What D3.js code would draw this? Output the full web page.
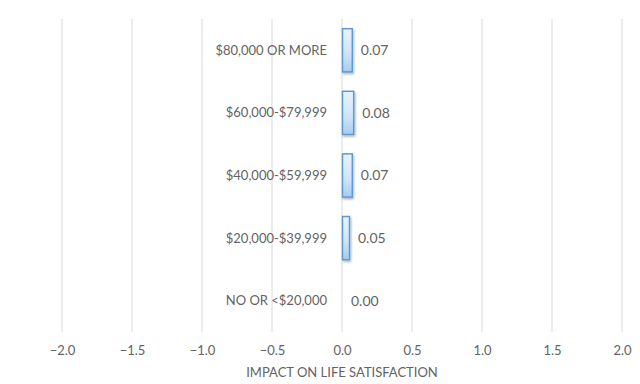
<!DOCTYPE html>
<html>
<head>
<meta charset="utf-8">
<script src="https://cdn.jsdelivr.net/npm/d3@7"></script>
<style>
  body { margin: 0; background: #fff; }
  text { font-family: Lato, "Open Sans", sans-serif; fill: #636363; }
</style>
</head>
<body>
<div id="chart"></div>
<script>
// income groups, bottom to top order as in the picture
var categories = ["NO OR <$20,000", "$20,000-$39,999", "$40,000-$59,999", "$60,000-$79,999", "$80,000 OR MORE"];
var values = [0.00, 0.05, 0.07, 0.08, 0.07];
var xTicks = [-2.0, -1.5, -1.0, -0.5, 0.0, 0.5, 1.0, 1.5, 2.0];

var svgWidth = 640;
var svgHeight = 384;

var margin = { top: 19, right: 18, bottom: 52, left: 62 };
var width = svgWidth - margin.left - margin.right;
var height = svgHeight - margin.top - margin.bottom;

var data = categories.map((c, i) => ({ cat: c, value: values[i] }));

var svg = d3.select("#chart")
  .append("svg")
  .attr("width", svgWidth)
  .attr("height", svgHeight);

var defs = svg.append("defs");
var grad = defs.append("linearGradient")
  .attr("id", "barFill")
  .attr("x1", 0).attr("y1", 0)
  .attr("x2", 0).attr("y2", 1);
grad.append("stop").attr("offset", "0%").attr("stop-color", "#eaf3fc");
grad.append("stop").attr("offset", "60%").attr("stop-color", "#cfe3f7");
grad.append("stop").attr("offset", "100%").attr("stop-color", "#a7cbef");

var shadow = defs.append("filter").attr("id", "shadow")
  .attr("x", "-50%").attr("y", "-20%").attr("width", "200%").attr("height", "140%");
shadow.append("feDropShadow")
  .attr("dx", 1).attr("dy", 1.5).attr("stdDeviation", 1)
  .attr("flood-color", "#000").attr("flood-opacity", 0.3);

var chartGroup = svg.append("g")
  .attr("transform", `translate(${margin.left}, ${margin.top})`);

var xScale = d3.scaleLinear()
  .domain([-2, 2])
  .range([0, width]);

var yScale = d3.scaleBand()
  .domain(categories.slice().reverse())
  .range([0, height])
  .paddingInner(0.31)
  .paddingOuter(0.155);

// vertical gridlines
chartGroup.selectAll("line.grid")
  .data(xTicks)
  .enter()
  .append("line")
  .classed("grid", true)
  .attr("x1", d => xScale(d))
  .attr("x2", d => xScale(d))
  .attr("y1", 0)
  .attr("y2", height)
  .attr("stroke", "#d9d9d9")
  .attr("stroke-width", 1);

// x axis, only the labels
var bottomAxis = d3.axisBottom(xScale)
  .tickValues(xTicks)
  .tickFormat(d3.format(".1f"))
  .tickSize(0)
  .tickPadding(14);

var xAxis = chartGroup.append("g")
  .attr("transform", `translate(0, ${height})`)
  .call(bottomAxis);
xAxis.select(".domain").remove();
xAxis.selectAll("text")
  .style("font-size", "13px")
  .attr("fill", "#636363");

// bars
chartGroup.selectAll("rect.bar")
  .data(data.filter(d => d.value > 0))
  .enter()
  .append("rect")
  .classed("bar", true)
  .attr("x", d => xScale(0) + 0.5)
  .attr("y", d => yScale(d.cat))
  .attr("width", d => xScale(d.value) - xScale(0))
  .attr("height", yScale.bandwidth())
  .attr("fill", "url(#barFill)")
  .attr("stroke", "#5b9bd5")
  .attr("stroke-width", 1.5)
  .attr("filter", "url(#shadow)");

// category labels
chartGroup.selectAll("text.cat")
  .data(data)
  .enter()
  .append("text")
  .classed("cat", true)
  .attr("x", xScale(0) - 15)
  .attr("y", d => yScale(d.cat) + yScale.bandwidth() / 2)
  .attr("dy", "0.35em")
  .attr("text-anchor", "end")
  .style("font-size", "13px")
  .text(d => d.cat);

// value labels
chartGroup.selectAll("text.val")
  .data(data)
  .enter()
  .append("text")
  .classed("val", true)
  .attr("x", d => xScale(d.value) + 9)
  .attr("y", d => yScale(d.cat) + yScale.bandwidth() / 2)
  .attr("dy", "0.35em")
  .style("font-size", "14px")
  .text(d => d.value.toFixed(2));

// axis title
chartGroup.append("text")
  .attr("x", width / 2)
  .attr("y", height + 45)
  .attr("text-anchor", "middle")
  .style("font-size", "13px")
  .text("IMPACT ON LIFE SATISFACTION");
</script>
</body>
</html>
